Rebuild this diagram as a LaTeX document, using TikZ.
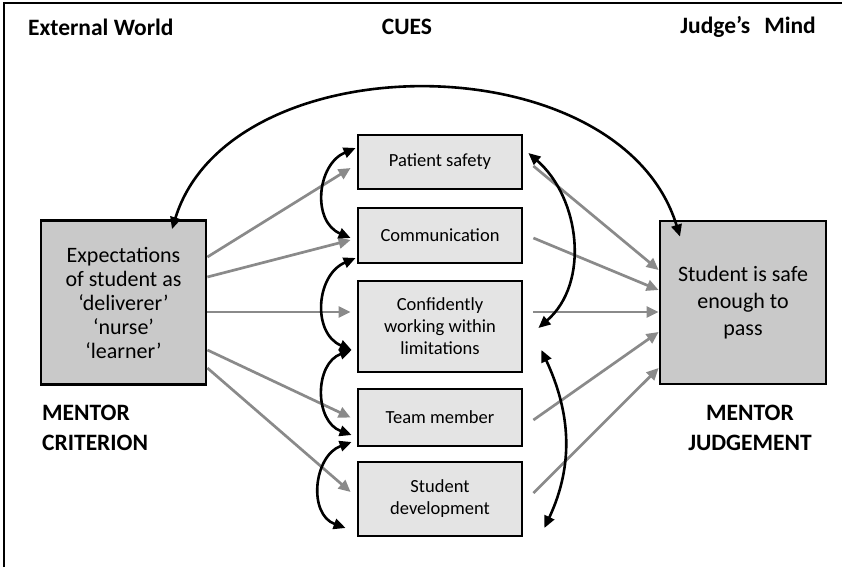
\documentclass[tikz,border=0pt]{standalone}
\usepackage{fontspec}
\setmainfont{Carlito}
\usepackage{xcolor}
\usetikzlibrary{arrows.meta}

\definecolor{boxgray}{RGB}{201,201,201}
\definecolor{cuegray}{RGB}{228,228,228}
\definecolor{feedgray}{RGB}{138,138,138}

\tikzset{
	head/.style={inner sep=0pt, font=\fontsize{23.5}{30}\selectfont\bfseries},
	mainbox/.style={draw, line width=2.8pt, fill=boxgray, align=center, minimum width=165pt, minimum height=164pt},
	cuebox/.style={draw, line width=2.8pt, fill=cuegray, align=center, minimum width=164pt, inner sep=0pt, font=\fontsize{18.5}{22}\selectfont},
	feed/.style={feedgray, line width=2.7pt, -{Triangle[length=12pt,width=11pt]}},
	link/.style={line width=2.6pt, {Triangle[length=12pt,width=10.5pt]}-{Triangle[length=12pt,width=10.5pt]}}
}

\begin{document}
\begin{tikzpicture}[x=1pt,y=1pt]
		\useasboundingbox (0,-567) rectangle (842,0);
		\draw[line width=1.8pt] (4,-567) -- (4,-3) -- (842,-3);

		\node[head, anchor=west] (world) at (28,-27) {External World};
		\node[head] (cues) at (407,-27) {CUES};
		\node[head, anchor=east] (mind) at (816,-27) {Judge's\hspace{14pt}Mind};

		\node[mainbox, font=\fontsize{22}{24}\selectfont] (crit) at (123.5,-302.5) {Expectations\\of student as\\`deliverer'\\`nurse'\\`learner'};
		\node[mainbox, minimum width=166pt, minimum height=163pt, font=\fontsize{22}{27}\selectfont] (judg) at (743,-302.5) {Student is safe\\enough to\\pass};
		\node[head, anchor=west, align=left] (crittag) at (42,-428) {MENTOR\\CRITERION};
		\node[head, align=center] (judgtag) at (750,-428) {MENTOR\\JUDGEMENT};

		\node[cuebox, minimum height=54pt] (safety) at (440,-162) {Patient safety};
		\node[cuebox, minimum height=55pt] (comm) at (440,-235.5) {Communication};
		\node[cuebox, minimum height=91pt] (conf) at (440,-326.5) {Confidently\\working within\\limitations};
		\node[cuebox, minimum height=57pt] (team) at (440,-417.5) {Team member};
		\node[cuebox, minimum height=74pt] (devel) at (440,-499) {Student\\development};

		% criterion feeding the cues
		\draw[feed] ([yshift=45.5pt]crit.east) -- ([xshift=-6pt,yshift=-6pt]safety.west);
		\draw[feed] ([yshift=25.5pt]crit.east) -- ([xshift=-6pt,yshift=-4.5pt]comm.west);
		\draw[feed] ([yshift=-9.5pt]crit.east) -- ([xshift=-6pt,yshift=14.5pt]conf.west);
		\draw[feed] ([yshift=-47.5pt]crit.east) -- ([xshift=-6pt]team.west);
		\draw[feed] ([yshift=-65.5pt]crit.east) -- ([xshift=-6pt,yshift=7pt]devel.west);

		% cues feeding the judgement
		\draw[feed] ([xshift=10pt,yshift=-4pt]safety.east) -- ([yshift=32.5pt]judg.west);
		\draw[feed] ([xshift=10pt,yshift=-2.5pt]comm.east) -- ([yshift=12.5pt]judg.west);
		\draw[feed] ([xshift=10pt,yshift=14.5pt]conf.east) -- ([yshift=-9.5pt]judg.west);
		\draw[feed] ([xshift=10pt,yshift=-2.5pt]team.east) -- ([yshift=-29.5pt]judg.west);
		\draw[feed] ([xshift=10pt,yshift=6pt]devel.east) -- ([yshift=-65.5pt]judg.west);

		% links between cues
		\draw[link] ([xshift=-1pt,yshift=14pt]safety.west) to[out=203, in=157, looseness=1.2] ([xshift=-6pt,yshift=-2.5pt]comm.west);
		\draw[link] ([xshift=-1pt,yshift=-22.5pt]comm.west) to[out=203, in=157, looseness=1.2] ([xshift=-5pt,yshift=-23.5pt]conf.west);
		\draw[link] ([xshift=-5pt,yshift=-23.5pt]conf.west) to[out=200, in=160, looseness=1.2] ([xshift=-5pt,yshift=-17.5pt]team.west);
		\draw[link] ([xshift=-5pt,yshift=-24.5pt]team.west) to[out=200, in=160, looseness=1.2] ([xshift=-11pt,yshift=-29pt]devel.west);
		\draw[link] ([xshift=5pt,yshift=9pt]safety.east) to[out=-41, in=41] ([xshift=15pt,yshift=-1.5pt]conf.east);
		\draw[link] ([xshift=18pt,yshift=-23.5pt]conf.east) to[out=-65, in=65] ([xshift=21pt,yshift=-29pt]devel.east);

		% criterion and judgement
		\draw[link] ([xshift=48.5pt,yshift=-10pt]crit.north) .. controls +(58,188) and +(-60,196) .. ([xshift=-63pt,yshift=-17pt]judg.north);
	\end{tikzpicture}
\end{document}
